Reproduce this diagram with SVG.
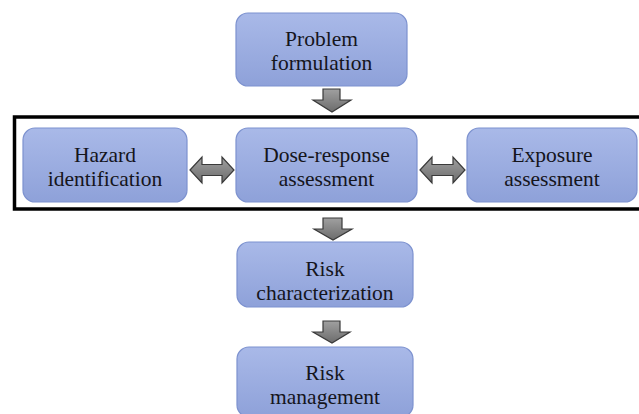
<svg xmlns="http://www.w3.org/2000/svg" width="639" height="414" viewBox="0 0 639 414">
<defs>
<linearGradient id="boxg" x1="0" y1="0" x2="0" y2="1">
<stop offset="0" stop-color="#a9b9e8"/>
<stop offset="1" stop-color="#8ea1d9"/>
</linearGradient>
<linearGradient id="arrg" x1="0" y1="0" x2="0" y2="1">
<stop offset="0" stop-color="#a0a0a0"/>
<stop offset="1" stop-color="#6c6c6c"/>
</linearGradient>
</defs>
<style>
.box{fill:url(#boxg);stroke:#7d92cf;stroke-width:1.2}
.lbl{font-family:"Liberation Serif","Times New Roman",serif;font-size:21.5px;fill:#15151c;text-anchor:middle}
.arr{fill:url(#arrg);stroke:#3a3a3a;stroke-width:1.2;stroke-linejoin:miter}
</style>
<rect x="0" y="0" width="639" height="414" fill="#ffffff"/>
<rect id="frame" x="14.5" y="117" width="630" height="92" fill="none" stroke="#000" stroke-width="3.5"/>
<g id="connectors">
<polygon class="arr" points="323,89 340,89 340,100 351,100 332,112 313,100 323,100"/>
<polygon class="arr" points="190,170 202,157 202,164.5 222,164.5 222,157 234,170 222,183 222,175.5 202,175.5 202,183"/>
<polygon class="arr" points="420,170 432,157 432,164.5 453,164.5 453,157 465,170 453,183 453,175.5 432,175.5 432,183"/>
<polygon class="arr" points="323,218 342,218 342,229 352,229 333,240 314,229 323,229"/>
<polygon class="arr" points="323,321 340,321 340,332 350,332 332,343 313,332 323,332"/>
</g>
<g id="problem">
<rect class="box" x="236" y="13" width="171" height="73" rx="12"/>
<text class="lbl" x="321.5" y="46">Problem</text>
<text class="lbl" x="321.5" y="70">formulation</text>
</g>
<g id="hazard">
<rect class="box" x="23" y="128" width="164" height="74" rx="12"/>
<text class="lbl" x="105" y="162">Hazard</text>
<text class="lbl" x="105" y="186">identification</text>
</g>
<g id="dose">
<rect class="box" x="236" y="128" width="181" height="74" rx="12"/>
<text class="lbl" x="326.5" y="162">Dose-response</text>
<text class="lbl" x="326.5" y="186">assessment</text>
</g>
<g id="exposure">
<rect class="box" x="467" y="128" width="170" height="74" rx="12"/>
<text class="lbl" x="552" y="162">Exposure</text>
<text class="lbl" x="552" y="186">assessment</text>
</g>
<g id="riskchar">
<rect class="box" x="237" y="242" width="176" height="65" rx="12"/>
<text class="lbl" x="325" y="276">Risk</text>
<text class="lbl" x="325" y="300">characterization</text>
</g>
<g id="riskmgmt">
<rect class="box" x="237" y="347" width="176" height="70" rx="12"/>
<text class="lbl" x="325" y="380">Risk</text>
<text class="lbl" x="325" y="404">management</text>
</g>
</svg>
